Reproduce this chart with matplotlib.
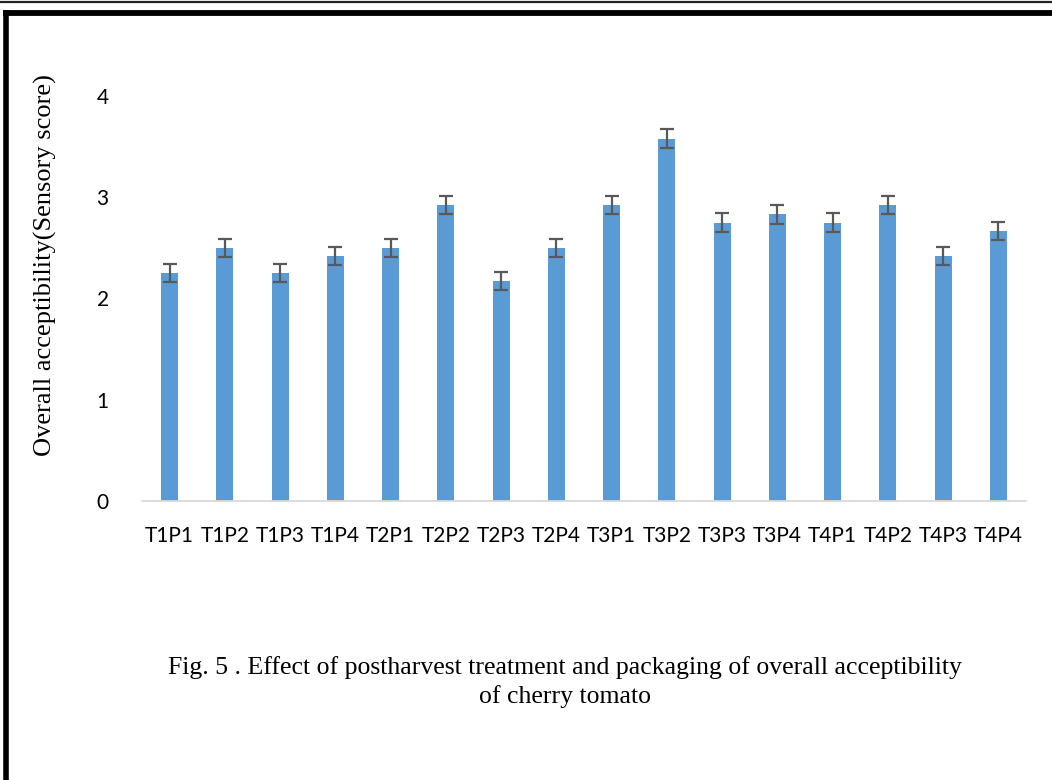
import matplotlib
matplotlib.use("Agg")
import matplotlib.pyplot as plt
from matplotlib.lines import Line2D
import numpy as np

categories = ["T1P1", "T1P2", "T1P3", "T1P4", "T2P1", "T2P2", "T2P3", "T2P4",
              "T3P1", "T3P2", "T3P3", "T3P4", "T4P1", "T4P2", "T4P3", "T4P4"]
scores = [2.25, 2.50, 2.25, 2.42, 2.50, 2.92, 2.17, 2.50,
          2.92, 3.58, 2.75, 2.83, 2.75, 2.92, 2.42, 2.67]
errors = [0.09] * 16
yticks = [0, 1, 2, 3, 4]

W, H = 1052, 780
fig = plt.figure(figsize=(W / 100, H / 100), dpi=100)
ax = fig.add_axes([142 / W, 1 - 501 / H, (1026 - 142) / W, (501 - 96) / H])

x = np.arange(len(categories))
ax.bar(x, scores, width=0.31, color="#5b9bd5", zorder=2)
ax.errorbar(x, scores, yerr=errors, fmt="none", ecolor="#595959",
            elinewidth=1.6, capsize=5, capthick=1.6, zorder=3, clip_on=False)

ax.set_xlim(-0.5, len(categories) - 0.5)
ax.set_ylim(0, 4)
ax.set_yticks(yticks)
ax.set_xticks(x)
ax.set_xticklabels(categories)
for s in ["top", "right", "left"]:
    ax.spines[s].set_visible(False)
ax.spines["bottom"].set_color("#d9d9d9")
ax.spines["bottom"].set_linewidth(1.3)
ax.tick_params(axis="both", length=0, labelsize=15)
ax.tick_params(axis="y", pad=24)
ax.tick_params(axis="x", pad=18)
for lab in ax.get_xticklabels() + ax.get_yticklabels():
    lab.set_fontfamily("Lato")

# y label sits as plain figure text, like the source document
fig.text(45 / W, 1 - 265 / H, "Overall acceptibility(Sensory score)",
         fontfamily="Liberation Serif", fontsize=19, rotation=90,
         ha="center", va="center")

fig.text(565 / W, 1 - 668 / H,
         "Fig. 5 . Effect of postharvest treatment and packaging of overall acceptibility",
         fontfamily="Liberation Serif", fontsize=18.5, ha="center", va="center")
fig.text(565 / W, 1 - 697 / H, "of cherry tomato",
         fontfamily="Liberation Serif", fontsize=18.5, ha="center", va="center")

# page frame
fig.add_artist(Line2D([0, 1], [1 - 1.5 / H, 1 - 1.5 / H], color="#222222", lw=1.6))
fig.add_artist(Line2D([3 / W, 1], [1 - 12.8 / H, 1 - 12.8 / H], color="black", lw=4.2,
                      solid_capstyle="butt"))
fig.add_artist(Line2D([5.8 / W, 5.8 / W], [1 - 10 / H, 0], color="black", lw=4.0,
                      solid_capstyle="butt"))

fig.savefig("out.png", dpi=100)
